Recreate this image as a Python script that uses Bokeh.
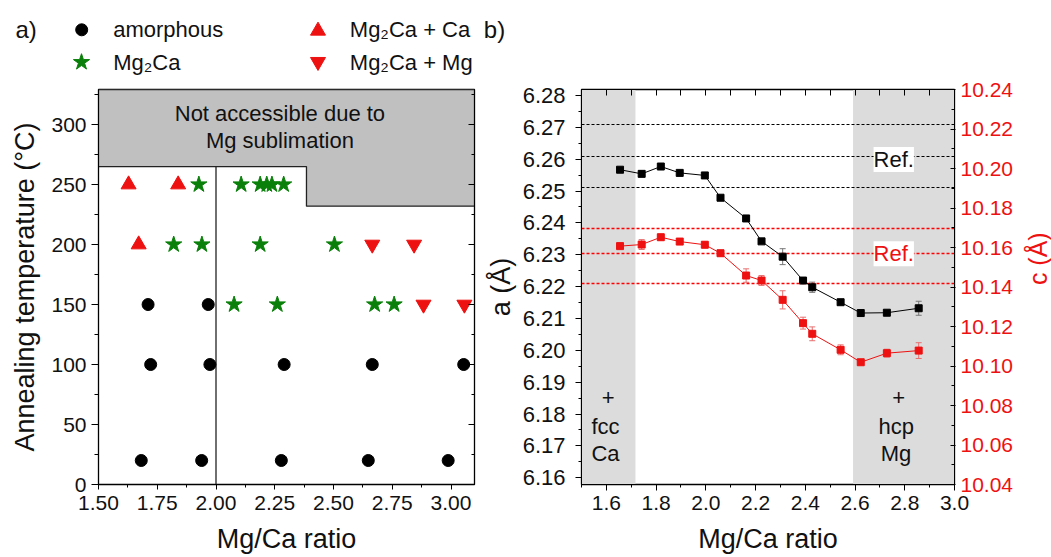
import math
from bokeh.plotting import figure
from bokeh.models import (Range1d, LinearAxis, FixedTicker, Label, Whisker, ColumnDataSource,
                          PrintfTickFormatter, TeeHead, BoxAnnotation, CustomJSTickFormatter)
from bokeh.layouts import row, column
from bokeh.embed import file_html
from bokeh.resources import INLINE
from bokeh.core.properties import value

FONT = "Liberation Sans"

# ---------------- panel a) : phase map ----------------
series_labels = ["amorphous", "Mg₂Ca", "Mg₂Ca + Ca", "Mg₂Ca + Mg"]
amorph_ratio = [1.711, 1.967, 1.722, 1.974, 2.290, 2.665, 3.054, 1.682, 1.939, 2.278, 2.648, 2.988]
amorph_temp = [150, 150, 100, 100, 100, 100, 100, 20, 20, 20, 20, 20]
mg2ca_ratio = [1.927, 2.107, 2.188, 2.216, 2.238, 2.288, 1.820, 1.940, 2.188, 2.504, 2.077, 2.261, 2.675, 2.758]
mg2ca_temp = [250, 250, 250, 250, 250, 250, 200, 200, 200, 200, 150, 150, 150, 150]
mg2ca_ca_ratio = [1.628, 1.839, 1.671]
mg2ca_ca_temp = [250, 250, 200]
mg2ca_mg_ratio = [2.665, 2.843, 2.883, 3.057]
mg2ca_mg_temp = [200, 200, 150, 150]
sublim_ratio = [1.5, 3.1, 3.1, 2.385, 2.385, 1.5]
sublim_temp = [329.2, 329.2, 232, 232, 265, 265]
boundary_ratio = [2.0, 2.0]
boundary_temp = [0, 265]
xticks_a = [1.50, 1.75, 2.00, 2.25, 2.50, 2.75, 3.00]
xminor_a = [1.625, 1.875, 2.125, 2.375, 2.625, 2.875, 3.125]
yticks_a = [0, 50, 100, 150, 200, 250, 300]
yminor_a = [25, 75, 125, 175, 225, 275, 325]

# ---------------- panel b) : lattice parameters ----------------
ratio_b = [1.655, 1.742, 1.819, 1.895, 1.996, 2.059, 2.162, 2.224, 2.309, 2.391, 2.428, 2.542, 2.623, 2.728, 2.856]
a_val = [6.2567, 6.2554, 6.2577, 6.2557, 6.2549, 6.2479, 6.2414, 6.2342, 6.2294, 6.2219, 6.2198, 6.2151, 6.2117, 6.2118, 6.2132]
a_err = [0.0006, 0.0009, 0.0009, 0.0006, 0.0006, 0.0006, 0.0009, 0.0006, 0.0025, 0.0009, 0.0016, 0.0006, 0.0006, 0.0006, 0.0022]
c_val = [10.1607, 10.1615, 10.1652, 10.1630, 10.1614, 10.1571, 10.1458, 10.1433, 10.1335, 10.1217, 10.1163, 10.1082, 10.1019, 10.1065, 10.1078]
c_err = [0.0010, 0.0025, 0.0015, 0.0015, 0.0015, 0.0015, 0.0034, 0.0025, 0.0046, 0.0030, 0.0035, 0.0025, 0.0010, 0.0020, 0.0040]
ref_a = [6.271, 6.261, 6.251]
ref_c = [10.1696, 10.1570, 10.1416]
ca_region = [1.5, 1.717]
mg_region = [2.592, 3.0]
xticks_b = [1.6, 1.8, 2.0, 2.2, 2.4, 2.6, 2.8, 3.0]
xminor_b = [1.5, 1.7, 1.9, 2.1, 2.3, 2.5, 2.7, 2.9]
yticks_b = [6.16, 6.17, 6.18, 6.19, 6.20, 6.21, 6.22, 6.23, 6.24, 6.25, 6.26, 6.27, 6.28]
yminor_b = [6.155, 6.165, 6.175, 6.185, 6.195, 6.205, 6.215, 6.225, 6.235, 6.245, 6.255, 6.265, 6.275]
cticks_b = [10.04, 10.06, 10.08, 10.10, 10.12, 10.14, 10.16, 10.18, 10.20, 10.22, 10.24]
cminor_b = [10.05, 10.07, 10.09, 10.11, 10.13, 10.15, 10.17, 10.19, 10.21, 10.23]

RED = "#ee1111"
GREEN = "#0a800a"
TXT = "#111111"
BLANK = CustomJSTickFormatter(code="return ''")


def style_axis(ax, tick_size="21px", label_size="27px"):
    ax.major_label_text_font = FONT
    ax.major_label_text_font_size = tick_size
    ax.major_label_text_color = TXT
    ax.axis_label_text_font = FONT
    ax.axis_label_text_font_size = label_size
    ax.axis_label_text_font_style = "normal"
    ax.axis_label_text_color = TXT
    ax.axis_line_color = "black"
    ax.major_tick_line_color = "black"
    ax.minor_tick_line_color = "black"


# ======================= header (legend + panel letters) =======================
hdr = figure(width=1051, height=75, x_range=Range1d(0, 1051), y_range=Range1d(75, 0),
             x_axis_type=None, y_axis_type=None, output_backend="svg", toolbar_location=None,
             min_border=0, outline_line_color=None)
hdr.scatter([81.2], [29.3], marker="circle", size=12, color="black")
hdr.scatter([81.0], [61.7], marker="star", size=17, color=GREEN)
hdr.scatter([317.5], [30.3], marker="triangle", size=15, color=RED)
hdr.scatter([317.5], [61.3], marker="inverted_triangle", size=15, color=RED)
hdr.text(x=[112.7, 112.7, 349.3, 349.3], y=[29.3, 61.7, 29.3, 61.7], text=series_labels,
         text_font=value(FONT), text_font_size="22px", text_color=TXT,
         text_align="left", text_baseline="middle")
hdr.text(x=[15, 483.3], y=[29.3, 29.3], text=["a)", "b)"],
         text_font=value(FONT), text_font_size="24px", text_color=TXT,
         text_align="left", text_baseline="middle")

# ======================= panel a =======================
p1 = figure(width=480, height=482, x_range=Range1d(1.5, 3.1), y_range=Range1d(0, 329.2),
            output_backend="svg", toolbar_location=None,
            min_border_left=98, min_border_right=6, min_border_top=14, min_border_bottom=73)
p1.grid.visible = False
p1.outline_line_color = "black"
p1.outline_line_width = 1.3

xa = p1.xaxis[0]
xa.ticker = FixedTicker(ticks=xticks_a, minor_ticks=xminor_a)
xa.formatter = PrintfTickFormatter(format="%.2f")
xa.axis_label = "Mg/Ca ratio"
style_axis(xa)
xa.major_tick_in = 0
xa.major_tick_out = 5
xa.minor_tick_in = 0
xa.minor_tick_out = 3
xa.major_label_standoff = 6
xa.axis_label_standoff = 11

ya = p1.yaxis[0]
ya.ticker = FixedTicker(ticks=yticks_a, minor_ticks=yminor_a)
ya.axis_label = "Annealing temperature (°C)"
style_axis(ya)
ya.major_tick_in = 0
ya.major_tick_out = 7
ya.minor_tick_in = 0
ya.minor_tick_out = 4
ya.major_label_standoff = 5
ya.axis_label_standoff = 8

ra = LinearAxis(ticker=FixedTicker(ticks=yticks_a, minor_ticks=yminor_a), formatter=BLANK,
                major_label_standoff=0,
                major_tick_in=6, major_tick_out=0, minor_tick_in=3, minor_tick_out=0,
                axis_line_color="black")
p1.add_layout(ra, "right")

p1.patch(sublim_ratio, sublim_temp, fill_color="#c0c0c0", line_color="#222222", line_width=1.3)
p1.line(boundary_ratio, boundary_temp, line_color="#222222", line_width=1.3)

p1.scatter(amorph_ratio, amorph_temp, marker="circle", size=12, color="black")
p1.scatter(mg2ca_ratio, mg2ca_temp, marker="star", size=17, color=GREEN)
p1.scatter(mg2ca_ca_ratio, mg2ca_ca_temp, marker="triangle", size=15, color=RED)
p1.scatter(mg2ca_mg_ratio, mg2ca_mg_temp, marker="inverted_triangle", size=15, color=RED)

for txt, yy in [("Not accessible due to", 308.9), ("Mg sublimation", 286.7)]:
    p1.add_layout(Label(x=2.272, y=yy, text=txt, text_align="center", text_baseline="middle",
                        text_font=FONT, text_font_size="22px", text_color=TXT))

# ======================= panel b =======================
p2 = figure(width=540, height=482, x_range=Range1d(1.5, 3.0), y_range=Range1d(6.15787, 6.28188),
            output_backend="svg", toolbar_location=None,
            min_border_left=101, min_border_right=66, min_border_top=14, min_border_bottom=73)
p2.grid.visible = False
p2.outline_line_color = "black"
p2.outline_line_width = 1.3
p2.extra_y_ranges = {"c": Range1d(10.04, 10.24)}

xb = p2.xaxis[0]
xb.ticker = FixedTicker(ticks=xticks_b, minor_ticks=xminor_b)
xb.formatter = PrintfTickFormatter(format="%.1f")
xb.axis_label = "Mg/Ca ratio"
style_axis(xb)
xb.major_tick_in = 0
xb.major_tick_out = 6
xb.minor_tick_in = 0
xb.minor_tick_out = 3
xb.major_label_standoff = 5
xb.axis_label_standoff = 11

yb = p2.yaxis[0]
yb.ticker = FixedTicker(ticks=yticks_b, minor_ticks=yminor_b)
yb.formatter = PrintfTickFormatter(format="%.2f")
yb.axis_label = "a (Å)"
style_axis(yb, tick_size="22px")
yb.major_tick_in = 0
yb.major_tick_out = 6
yb.minor_tick_in = 0
yb.minor_tick_out = 3
yb.major_label_standoff = 10
yb.axis_label_standoff = 4

cb = LinearAxis(y_range_name="c", ticker=FixedTicker(ticks=cticks_b, minor_ticks=cminor_b),
                formatter=PrintfTickFormatter(format="%.2f"))
style_axis(cb, tick_size="21px")
cb.major_label_text_color = RED
cb.major_tick_in = 4
cb.major_tick_out = 1
cb.minor_tick_in = 3
cb.minor_tick_out = 0
cb.major_label_standoff = 5
p2.add_layout(cb, "right")

tb = LinearAxis(ticker=FixedTicker(ticks=xticks_b, minor_ticks=xminor_b), formatter=BLANK,
                major_label_standoff=0,
                major_tick_in=6, major_tick_out=0, minor_tick_in=6, minor_tick_out=0,
                axis_line_color="black")
p2.add_layout(tb, "above")

for reg in (ca_region, mg_region):
    p2.add_layout(BoxAnnotation(left=reg[0], right=reg[1], fill_color="#dcdcdc", fill_alpha=1,
                                line_color=None, level="underlay"))

p2.hspan(y=ref_a, line_color="black", line_dash="3 2", line_width=1)
p2.hspan(y=ref_c, line_color="#ff0000", line_dash="3 2", line_width=1.5, y_range_name="c")

src_a = ColumnDataSource(dict(x=ratio_b, y=a_val,
                              lo=[v - e for v, e in zip(a_val, a_err)],
                              hi=[v + e for v, e in zip(a_val, a_err)]))
src_c = ColumnDataSource(dict(x=ratio_b, y=c_val,
                              lo=[v - e for v, e in zip(c_val, c_err)],
                              hi=[v + e for v, e in zip(c_val, c_err)]))

p2.add_layout(Whisker(source=src_a, base="x", lower="lo", upper="hi", line_color="#777777",
                      upper_head=TeeHead(size=6, line_color="#777777"),
                      lower_head=TeeHead(size=6, line_color="#777777")))
p2.add_layout(Whisker(source=src_c, base="x", lower="lo", upper="hi", line_color="#e87070",
                      y_range_name="c",
                      upper_head=TeeHead(size=6, line_color="#e87070"),
                      lower_head=TeeHead(size=6, line_color="#e87070")))

p2.line("x", "y", source=src_a, line_color="black", line_width=1)
p2.scatter("x", "y", source=src_a, marker="square", size=7, color="black")
p2.line("x", "y", source=src_c, line_color=RED, line_width=1, y_range_name="c")
p2.scatter("x", "y", source=src_c, marker="square", size=7, color=RED, y_range_name="c")

for txt, xx, yy in [("+", 1.607, 6.1851), ("fcc", 1.5965, 6.1762), ("Ca", 1.5965, 6.1677),
                    ("+", 2.776, 6.1851), ("hcp", 2.766, 6.1762), ("Mg", 2.765, 6.1677)]:
    p2.add_layout(Label(x=xx, y=yy, text=txt, text_align="center", text_baseline="middle",
                        text_font=FONT, text_font_size="22px", text_color=TXT))

p2.add_layout(Label(x=2.7557, y=6.2599, text="Ref.", text_align="center", text_baseline="middle",
                    text_font=FONT, text_font_size="22px", text_color=TXT,
                    background_fill_color="white", background_fill_alpha=1))
p2.add_layout(Label(x=2.7557, y=10.1568, y_range_name="c", text="Ref.", text_align="center",
                    text_baseline="middle", text_font=FONT, text_font_size="22px", text_color=RED,
                    background_fill_color="white", background_fill_alpha=1))

# ======================= right axis title strip (c) =======================
pc = figure(width=31, height=482, x_range=Range1d(0, 31), y_range=Range1d(0, 482),
            x_axis_type=None, y_axis_type=None, output_backend="svg", toolbar_location=None,
            min_border=0, outline_line_color=None)
pc.text(x=[17], y=[275.5], text=["c (Å)"], angle=math.pi / 2,
        text_font=value(FONT), text_font_size="25px", text_color=RED,
        text_align="center", text_baseline="middle")

layout = column(hdr, row(p1, p2, pc, spacing=0), spacing=0)
open("out.html", "w").write(file_html(layout, INLINE))
